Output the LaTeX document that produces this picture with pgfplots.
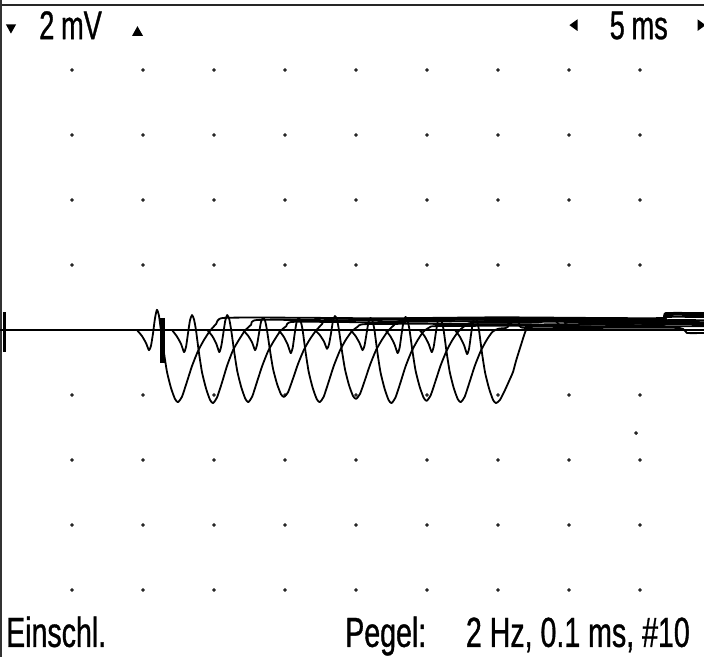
\documentclass[border=0pt]{standalone}
\usepackage{fontspec}
\setmainfont{Liberation Sans}[FakeStretch=0.68, FakeBold=0.8]
\usepackage{pgfplots}
\pgfplotsset{compat=1.18}
\usepackage{pgfplotstable}

\pgfplotstableread{
t v
5 8
10 8
15 8
20 8
25 8
30 8
35 8
40 8
45 8
5 6
10 6
15 6
20 6
25 6
30 6
35 6
40 6
45 6
5 4
10 4
15 4
20 4
25 4
30 4
35 4
40 4
45 4
5 2
10 2
15 2
20 2
25 2
30 2
35 2
40 2
45 2
5 -2
10 -2
15 -2
20 -2
25 -2
30 -2
35 -2
40 -2
45 -2
5 -4
10 -4
15 -4
20 -4
25 -4
30 -4
35 -4
40 -4
45 -4
5 -6
10 -6
15 -6
20 -6
25 -6
30 -6
35 -6
40 -6
45 -6
5 -8
10 -8
15 -8
20 -8
25 -8
30 -8
35 -8
40 -8
45 -8
44.72 -3.17
}\griddots

\begin{document}
\begin{tikzpicture}
\begin{axis}[
  scale only axis, width=704pt, height=657pt,
  xmin=-0.0704, xmax=49.507, ymin=-10.0615, ymax=10.1538,
  hide axis, clip mode=individual,
  every axis plot/.append style={line join=round},
]
% grid dots
\addplot[only marks, mark=*, mark size=1.7pt, black!85] table[x=t,y=v] {\griddots};
% frame
\draw[line width=2.5pt, black!85] (axis cs:-0.0704,10.0) -- (axis cs:49.507,10.0);
\draw[line width=2.2pt, black!80] (axis cs:0.0,10.1538) -- (axis cs:0.0,-10.0615);
% baseline
\addplot[black, line width=1.8pt] coordinates {(-0.07,0) (49.55,0)};
% markers
\addplot[black, line width=3pt] coordinates {(0.28,0.55) (0.28,-0.68)};
\addplot[black, line width=5pt] coordinates {(11.37,0.37) (11.37,-1.02)};
% traces
\pgfplotsset{tr/.style={black, line width=1.8pt, smooth, tension=0.35}}
\addplot[tr] coordinates {(9.57,0) (9.92,-0.18) (10.21,-0.40) (10.42,-0.62) (10.56,-0.49) (10.70,-0.12) (10.84,0.35) (10.98,0.62) (11.12,0.45) (11.26,0) (11.47,-0.68) (11.69,-1.29) (11.97,-1.78) (12.25,-2.12) (12.46,-2.22) (12.74,-2.06) (13.09,-1.60) (13.45,-1.11) (13.87,-0.65) (14.29,-0.31) (14.71,-0.03) (15.14,0.18) (15.63,0.37) (20,0.38) (27,0.36) (35,0.39) (42,0.37) (46.6,0.37) (46.8,0.52) (49.55,0.52)};
\addplot[tr] coordinates {(12.04,0) (12.39,-0.20) (12.68,-0.43) (12.89,-0.68) (13.03,-0.52) (13.17,-0.10) (13.31,0.30) (13.45,0.46) (13.59,0.33) (13.73,0) (13.94,-0.70) (14.16,-1.31) (14.44,-1.80) (14.72,-2.15) (14.93,-2.25) (15.21,-2.08) (15.56,-1.62) (15.92,-1.10) (16.34,-0.62) (16.76,-0.30) (17.18,-0.02) (17.61,0.16) (18.10,0.31) (24,0.30) (31,0.33) (38,0.31) (44,0.30) (46.6,0.31) (46.8,0.46) (49.55,0.46)};
\addplot[tr] coordinates {(14.52,0) (14.87,-0.18) (15.16,-0.42) (15.37,-0.68) (15.51,-0.50) (15.65,-0.12) (15.79,0.28) (15.93,0.46) (16.07,0.34) (16.21,0) (16.42,-0.66) (16.64,-1.27) (16.92,-1.76) (17.20,-2.11) (17.41,-2.22) (17.69,-2.05) (18.04,-1.58) (18.40,-1.10) (18.82,-0.64) (19.24,-0.32) (19.66,-0.04) (20.09,0.12) (20.58,0.25) (26,0.24) (33,0.27) (40,0.25) (46.6,0.25) (49.55,0.24)};
\addplot[tr] coordinates {(17.04,0) (17.39,-0.17) (17.68,-0.38) (17.89,-0.62) (18.03,-0.46) (18.17,-0.10) (18.31,0.25) (18.45,0.37) (18.59,0.30) (18.73,0) (18.94,-0.62) (19.16,-1.20) (19.44,-1.66) (19.72,-1.98) (19.93,-2.06) (20.21,-1.92) (20.56,-1.50) (20.92,-1.04) (21.34,-0.60) (21.76,-0.28) (22.18,-0.02) (22.61,0.18) (23.10,0.34) (28,0.33) (35,0.36) (42,0.34) (46.6,0.34) (46.8,0.49) (49.55,0.49)};
\addplot[tr] coordinates {(19.55,0) (19.90,-0.20) (20.19,-0.45) (20.40,-0.71) (20.54,-0.55) (20.68,-0.12) (20.82,0.25) (20.96,0.37) (21.10,0.28) (21.24,0) (21.45,-0.68) (21.67,-1.29) (21.95,-1.78) (22.23,-2.12) (22.44,-2.22) (22.72,-2.06) (23.07,-1.60) (23.43,-1.11) (23.85,-0.65) (24.27,-0.31) (24.69,-0.05) (25.12,0.10) (25.61,0.18) (30,0.19) (37,0.17) (44,0.19) (49.55,0.18)};
\addplot[tr] coordinates {(22.11,0) (22.46,-0.16) (22.75,-0.36) (22.96,-0.58) (23.10,-0.44) (23.24,-0.10) (23.38,0.28) (23.52,0.43) (23.66,0.32) (23.80,0) (24.01,-0.64) (24.23,-1.22) (24.51,-1.70) (24.79,-2.03) (25.00,-2.12) (25.28,-1.97) (25.63,-1.54) (25.99,-1.07) (26.41,-0.62) (26.83,-0.30) (27.25,-0.03) (27.68,0.15) (28.17,0.28) (33,0.27) (40,0.29) (46.6,0.28) (46.8,0.40) (49.55,0.40)};
\addplot[tr] coordinates {(24.61,0) (24.96,-0.18) (25.25,-0.40) (25.46,-0.62) (25.60,-0.48) (25.74,-0.12) (25.88,0.25) (26.02,0.37) (26.16,0.28) (26.30,0) (26.51,-0.70) (26.73,-1.31) (27.01,-1.80) (27.29,-2.15) (27.50,-2.25) (27.78,-2.08) (28.13,-1.62) (28.49,-1.12) (28.91,-0.66) (29.33,-0.32) (29.75,-0.05) (30.18,0.08) (30.67,0.12) (36,0.13) (42,0.11) (49.55,0.12)};
\addplot[tr] coordinates {(27.08,0) (27.43,-0.20) (27.72,-0.45) (27.93,-0.71) (28.07,-0.55) (28.21,-0.12) (28.35,0.27) (28.49,0.40) (28.63,0.30) (28.77,0) (28.98,-0.66) (29.20,-1.26) (29.48,-1.74) (29.76,-2.08) (29.97,-2.18) (30.25,-2.02) (30.60,-1.57) (30.96,-1.09) (31.38,-0.64) (31.80,-0.30) (32.22,-0.04) (32.65,0.12) (33.14,0.22) (36,0.22) (38.0,0.24) (38.5,0.37) (39.0,0.30) (39.58,0.06) (40.0,0.25) (44,0.22) (49.55,0.22)};
\addplot[tr] coordinates {(29.48,0) (29.83,-0.19) (30.12,-0.43) (30.33,-0.68) (30.47,-0.52) (30.61,-0.12) (30.75,0.25) (30.89,0.37) (31.03,0.28) (31.17,0) (31.38,-0.68) (31.60,-1.29) (31.88,-1.78) (32.16,-2.12) (32.37,-2.22) (32.65,-2.06) (33.00,-1.60) (33.36,-1.11) (33.78,-0.65) (34.20,-0.31) (34.62,-0.05) (35.05,0.04) (35.54,0.06) (35.7,0.10) (36.06,0.37) (36.5,0.20) (37,0.06) (44,0.07) (47.8,0.06) (48.3,-0.09) (49.55,-0.09)};
\addplot[tr] coordinates {(31.97,0) (32.32,-0.21) (32.61,-0.47) (32.82,-0.74) (32.96,-0.58) (33.10,-0.14) (33.24,0.25) (33.38,0.37) (33.52,0.28) (33.66,0) (33.87,-0.70) (34.09,-1.31) (34.37,-1.80) (34.65,-2.15) (34.86,-2.25) (35.14,-2.15) (35.49,-1.85) (35.85,-1.50) (36.06,-1.29) (36.27,-0.95) (36.62,-0.46) (36.97,0) (37.36,0.12) (37.86,0.15) (42,0.16) (46.6,0.15) (46.8,0.30) (49.55,0.30)};
% header and footer texts
\node[anchor=base west, inner sep=0pt, font=\fontsize{40}{44}\selectfont] at (axis cs:2.68,8.95) {2\,mV};
\node[anchor=base east, inner sep=0pt, font=\fontsize{40}{44}\selectfont] at (axis cs:46.97,8.95) {5\,ms};
\fill[black] (axis cs:0.35,9.40) -- (axis cs:1.06,9.40) -- (axis cs:0.70,9.12) -- cycle;
\fill[black] (axis cs:9.23,9.05) -- (axis cs:10.00,9.05) -- (axis cs:9.61,9.35) -- cycle;
\fill[black] (axis cs:40.60,9.56) -- (axis cs:40.60,9.20) -- (axis cs:40.03,9.38) -- cycle;
\fill[black] (axis cs:49.05,9.56) -- (axis cs:49.05,9.20) -- (axis cs:49.62,9.38) -- cycle;
\node[anchor=base west, inner sep=0pt, font=\fontsize{42}{46}\selectfont] at (axis cs:0.35,-9.75) {Einschl.};
\node[anchor=base west, inner sep=0pt, font=\fontsize{42}{46}\selectfont] at (axis cs:24.23,-9.75) {Pegel:};
\node[anchor=base east, inner sep=0pt, font=\fontsize{42}{46}\selectfont] at (axis cs:48.52,-9.75) {2 Hz, 0.1 ms, \#10};
\end{axis}
\pgfresetboundingbox
\path[use as bounding box] (current axis.south west) rectangle (current axis.north east);
\end{tikzpicture}
\end{document}
